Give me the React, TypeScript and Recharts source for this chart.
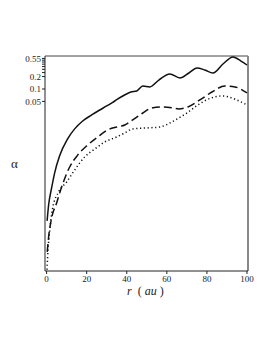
import { Line, LineChart, ReferenceLine, XAxis, YAxis } from 'recharts'

// radius (au) and alpha, one pair of arrays per curve
const solidR = [0.25, 1, 2.5, 4, 6.5, 10.5, 14, 18, 22.5, 26.5, 30, 34, 38, 42, 45, 48, 51.5, 56, 61.5, 66.5, 71, 75, 79, 83, 88, 93, 97, 100]
const solidAlpha = [6.4e-5, 1.55e-4, 4.0e-4, 9.2e-4, 2.4e-3, 6.2e-3, 0.0108, 0.0168, 0.0235, 0.031, 0.0388, 0.0512, 0.0677, 0.0846, 0.0895, 0.118, 0.112, 0.165, 0.231, 0.185, 0.244, 0.323, 0.288, 0.244, 0.403, 0.596, 0.476, 0.381]

const dashedR = [0.3, 1, 2.5, 5, 7.5, 11.5, 15.5, 20.5, 25.5, 30.5, 35, 39, 43, 48, 52.5, 58, 63, 66, 70.5, 76.5, 82.5, 89, 94, 100]
const dashedAlpha = [1.13e-5, 2.6e-5, 7.5e-5, 1.74e-4, 4.2e-4, 1.29e-3, 2.5e-3, 4.4e-3, 6.9e-3, 0.0102, 0.012, 0.0134, 0.0178, 0.0262, 0.0347, 0.0367, 0.0347, 0.0328, 0.0367, 0.0542, 0.0846, 0.118, 0.112, 0.08]

const dottedR = [0.2, 0.7, 1.5, 3, 6, 10, 14, 19, 24, 29, 35, 39, 43, 50, 56.5, 61.5, 66, 70, 75.5, 82, 87.5, 91, 95, 100]
const dottedAlpha = [4.2e-6, 1.26e-5, 3.45e-5, 1.3e-4, 3.2e-4, 5.6e-4, 1.09e-3, 2.26e-3, 3.5e-3, 5.2e-3, 6.9e-3, 8.6e-3, 0.0108, 0.0114, 0.012, 0.015, 0.0199, 0.0262, 0.041, 0.0605, 0.0677, 0.064, 0.0542, 0.041]

const xTicks = [0, 20, 40, 60, 80, 100]
const yTicks = [0.05, 0.1, 0.2, 0.25, 0.3, 0.35, 0.4, 0.45, 0.5, 0.55]
const yLabelled = [0.05, 0.1, 0.2, 0.55]

const X_DOMAIN: [number, number] = [-0.8, 100.5]
const Y_DOMAIN: [number, number] = [3.9e-6, 0.63]

const toRows = (r: number[], a: number[]) => r.map((x, i) => ({ r: x, a: a[i] }))

const serif = '"Liberation Serif", serif'
const tickStyle = { fontSize: 9, fill: '#222', fontFamily: serif }

export default function App() {
  const solid = toRows(solidR, solidAlpha)
  const dashed = toRows(dashedR, dashedAlpha)
  const dotted = toRows(dottedR, dottedAlpha)

  return (
    <div style={{ position: 'absolute', left: 0, top: 0, width: 273, height: 353, background: '#fff' }}>
      <LineChart width={273} height={353} margin={{ top: 56, right: 25, bottom: 52, left: 0 }}>
        <XAxis
          dataKey="r"
          type="number"
          domain={X_DOMAIN}
          ticks={xTicks}
          allowDataOverflow
          height={30}
          tickSize={3}
          tickMargin={2}
          tick={tickStyle}
          stroke="#222"
        />
        <YAxis
          scale="log"
          type="number"
          domain={Y_DOMAIN}
          allowDataOverflow
          ticks={yTicks}
          interval={0}
          width={45}
          tickSize={3}
          tickMargin={1}
          tick={tickStyle}
          tickFormatter={(v: number) => (yLabelled.includes(v) ? String(v) : '')}
          stroke="#222"
        />
        {/* frame: top and right edges */}
        <ReferenceLine y={Y_DOMAIN[1]} stroke="#444" strokeWidth={1} ifOverflow="visible" />
        <ReferenceLine x={X_DOMAIN[1]} stroke="#888" strokeWidth={2} ifOverflow="visible" />
        <Line data={solid} dataKey="a" type="monotone" stroke="#111" strokeWidth={1.5} dot={false} isAnimationActive={false} />
        <Line data={dashed} dataKey="a" type="monotone" stroke="#111" strokeWidth={1.5} strokeDasharray="8 4" dot={false} isAnimationActive={false} />
        <Line data={dotted} dataKey="a" type="monotone" stroke="#111" strokeWidth={1.5} strokeDasharray="1.2 2.6" dot={false} isAnimationActive={false} />
      </LineChart>
      <div style={{ position: 'absolute', left: 11, top: 156, fontSize: 13, fontFamily: serif, color: '#222' }}>
        α
      </div>
      <div
        style={{
          position: 'absolute',
          left: 127,
          top: 285,
          fontSize: 12,
          lineHeight: '12px',
          fontFamily: serif,
          color: '#222',
          whiteSpace: 'nowrap',
        }}
      >
        <i>r</i>&nbsp;&nbsp;(&nbsp;<i>au</i>&nbsp;)
      </div>
    </div>
  )
}
